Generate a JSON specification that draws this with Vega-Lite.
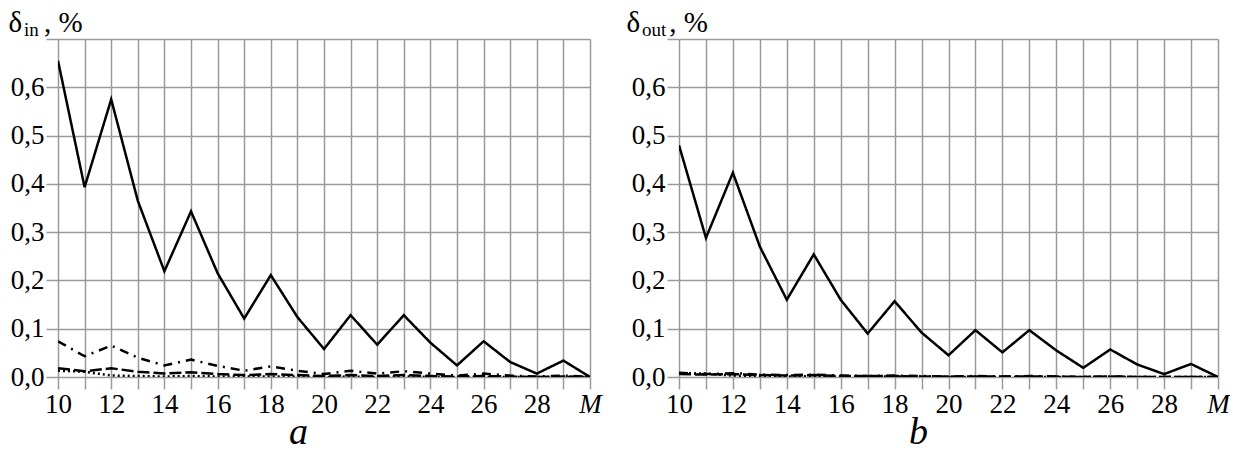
{
  "$schema": "https://vega.github.io/schema/vega-lite/v6.json",
  "padding": {"left": 8, "top": 8, "right": 0, "bottom": 0},
  "background": "white",
  "config": {
    "font": "Liberation Serif, serif",
    "view": {"stroke": null},
    "axis": {
      "domain": false,
      "gridColor": "#9a9a9a",
      "gridWidth": 1.5,
      "gridOpacity": 1,
      "tickColor": "#9a9a9a",
      "tickWidth": 1.5,
      "tickSize": 12,
      "labelFont": "Liberation Serif, serif",
      "labelFontSize": 27,
      "labelColor": "black",
      "titleColor": "black",
      "titleFontWeight": "normal"
    }
  },
  "datasets": {
    "left": [
      {"M":10,"s":"S","v":0.655},{"M":11,"s":"S","v":0.393},{"M":12,"s":"S","v":0.575},{"M":13,"s":"S","v":0.365},{"M":14,"s":"S","v":0.219},{"M":15,"s":"S","v":0.343},{"M":16,"s":"S","v":0.215},{"M":17,"s":"S","v":0.121},{"M":18,"s":"S","v":0.211},{"M":19,"s":"S","v":0.124},{"M":20,"s":"S","v":0.058},{"M":21,"s":"S","v":0.128},{"M":22,"s":"S","v":0.067},{"M":23,"s":"S","v":0.128},{"M":24,"s":"S","v":0.071},{"M":25,"s":"S","v":0.024},{"M":26,"s":"S","v":0.074},{"M":27,"s":"S","v":0.031},{"M":28,"s":"S","v":0.007},{"M":29,"s":"S","v":0.034},{"M":30,"s":"S","v":0.0},
      {"M":10,"s":"D","v":0.074},{"M":11,"s":"D","v":0.043},{"M":12,"s":"D","v":0.065},{"M":13,"s":"D","v":0.040},{"M":14,"s":"D","v":0.024},{"M":15,"s":"D","v":0.036},{"M":16,"s":"D","v":0.023},{"M":17,"s":"D","v":0.013},{"M":18,"s":"D","v":0.022},{"M":19,"s":"D","v":0.013},{"M":20,"s":"D","v":0.006},{"M":21,"s":"D","v":0.013},{"M":22,"s":"D","v":0.007},{"M":23,"s":"D","v":0.012},{"M":24,"s":"D","v":0.007},{"M":25,"s":"D","v":0.003},{"M":26,"s":"D","v":0.007},{"M":27,"s":"D","v":0.003},{"M":28,"s":"D","v":0.001},{"M":29,"s":"D","v":0.003},{"M":30,"s":"D","v":0.0},
      {"M":10,"s":"L","v":0.018},{"M":11,"s":"L","v":0.012},{"M":12,"s":"L","v":0.018},{"M":13,"s":"L","v":0.011},{"M":14,"s":"L","v":0.007},{"M":15,"s":"L","v":0.010},{"M":16,"s":"L","v":0.006},{"M":17,"s":"L","v":0.004},{"M":18,"s":"L","v":0.006},{"M":19,"s":"L","v":0.004},{"M":20,"s":"L","v":0.002},{"M":21,"s":"L","v":0.004},{"M":22,"s":"L","v":0.002},{"M":23,"s":"L","v":0.004},{"M":24,"s":"L","v":0.002},{"M":25,"s":"L","v":0.001},{"M":26,"s":"L","v":0.002},{"M":27,"s":"L","v":0.001},{"M":28,"s":"L","v":0.0},{"M":29,"s":"L","v":0.001},{"M":30,"s":"L","v":0.0},
      {"M":10,"s":"P","v":0.013},{"M":11,"s":"P","v":0.011},{"M":12,"s":"P","v":0.003},{"M":13,"s":"P","v":0.002},{"M":14,"s":"P","v":0.001},{"M":15,"s":"P","v":0.002},{"M":16,"s":"P","v":0.001},{"M":17,"s":"P","v":0.001},{"M":18,"s":"P","v":0.001},{"M":19,"s":"P","v":0.001},{"M":20,"s":"P","v":0.0},{"M":21,"s":"P","v":0.001},{"M":22,"s":"P","v":0.0},{"M":23,"s":"P","v":0.001},{"M":24,"s":"P","v":0.0},{"M":25,"s":"P","v":0.0},{"M":26,"s":"P","v":0.0},{"M":27,"s":"P","v":0.0},{"M":28,"s":"P","v":0.0},{"M":29,"s":"P","v":0.0},{"M":30,"s":"P","v":0.0}
    ],
    "right": [
      {"M":10,"s":"S","v":0.480},{"M":11,"s":"S","v":0.288},{"M":12,"s":"S","v":0.423},{"M":13,"s":"S","v":0.270},{"M":14,"s":"S","v":0.160},{"M":15,"s":"S","v":0.254},{"M":16,"s":"S","v":0.160},{"M":17,"s":"S","v":0.090},{"M":18,"s":"S","v":0.157},{"M":19,"s":"S","v":0.092},{"M":20,"s":"S","v":0.045},{"M":21,"s":"S","v":0.097},{"M":22,"s":"S","v":0.051},{"M":23,"s":"S","v":0.097},{"M":24,"s":"S","v":0.055},{"M":25,"s":"S","v":0.019},{"M":26,"s":"S","v":0.057},{"M":27,"s":"S","v":0.026},{"M":28,"s":"S","v":0.006},{"M":29,"s":"S","v":0.027},{"M":30,"s":"S","v":0.0},
      {"M":10,"s":"D","v":0.009},{"M":11,"s":"D","v":0.006},{"M":12,"s":"D","v":0.008},{"M":13,"s":"D","v":0.005},{"M":14,"s":"D","v":0.004},{"M":15,"s":"D","v":0.005},{"M":16,"s":"D","v":0.003},{"M":17,"s":"D","v":0.002},{"M":18,"s":"D","v":0.003},{"M":19,"s":"D","v":0.002},{"M":20,"s":"D","v":0.001},{"M":21,"s":"D","v":0.002},{"M":22,"s":"D","v":0.001},{"M":23,"s":"D","v":0.002},{"M":24,"s":"D","v":0.001},{"M":25,"s":"D","v":0.0},{"M":26,"s":"D","v":0.001},{"M":27,"s":"D","v":0.0},{"M":28,"s":"D","v":0.0},{"M":29,"s":"D","v":0.0},{"M":30,"s":"D","v":0.0},
      {"M":10,"s":"L","v":0.006},{"M":11,"s":"L","v":0.005},{"M":12,"s":"L","v":0.006},{"M":13,"s":"L","v":0.004},{"M":14,"s":"L","v":0.003},{"M":15,"s":"L","v":0.004},{"M":16,"s":"L","v":0.002},{"M":17,"s":"L","v":0.002},{"M":18,"s":"L","v":0.002},{"M":19,"s":"L","v":0.001},{"M":20,"s":"L","v":0.001},{"M":21,"s":"L","v":0.001},{"M":22,"s":"L","v":0.001},{"M":23,"s":"L","v":0.001},{"M":24,"s":"L","v":0.001},{"M":25,"s":"L","v":0.0},{"M":26,"s":"L","v":0.001},{"M":27,"s":"L","v":0.0},{"M":28,"s":"L","v":0.0},{"M":29,"s":"L","v":0.0},{"M":30,"s":"L","v":0.0},
      {"M":10,"s":"P","v":0.008},{"M":11,"s":"P","v":0.007},{"M":12,"s":"P","v":0.003},{"M":13,"s":"P","v":0.002},{"M":14,"s":"P","v":0.001},{"M":15,"s":"P","v":0.002},{"M":16,"s":"P","v":0.001},{"M":17,"s":"P","v":0.001},{"M":18,"s":"P","v":0.001},{"M":19,"s":"P","v":0.001},{"M":20,"s":"P","v":0.0},{"M":21,"s":"P","v":0.0},{"M":22,"s":"P","v":0.0},{"M":23,"s":"P","v":0.0},{"M":24,"s":"P","v":0.0},{"M":25,"s":"P","v":0.0},{"M":26,"s":"P","v":0.0},{"M":27,"s":"P","v":0.0},{"M":28,"s":"P","v":0.0},{"M":29,"s":"P","v":0.0},{"M":30,"s":"P","v":0.0}
    ]
  },
  "hconcat": [
    {
      "width": 532,
      "height": 338,
      "data": {"name": "left"},
      "title": {"text": "in", "anchor": "start", "frame": "group", "orient": "top", "font": "Liberation Serif, serif", "fontSize": 19, "fontWeight": "normal", "color": "black", "baseline": "alphabetic", "offset": -47, "dx": -34},
      "mark": {"type": "line", "color": "black", "strokeWidth": 2.5, "clip": true},
      "encoding": {
        "x": {"field": "M", "type": "quantitative",
          "scale": {"domain": [10, 30], "nice": false, "zero": false},
          "axis": {"values": [10,11,12,13,14,15,16,17,18,19,20,21,22,23,24,25,26,27,28,29,30],
            "labelFont": "Liberation Serif, serif",
            "labelExpr": "datum.value == 30 ? 'M' : (datum.value % 2 == 0 ? datum.label : '')",
            "labelFontStyle": {"condition": {"test": "datum.value == 30", "value": "italic"}, "value": "normal"},
            "labelFlush": false, "labelOverlap": false, "labelPadding": 2,
            "title": "a", "titleFont": "Liberation Serif, serif", "titleFontSize": 38, "titleFontStyle": "italic", "titleBaseline": "alphabetic", "titleX": 240, "titleY": 66}},
        "y": {"field": "v", "type": "quantitative",
          "scale": {"domain": [0, 0.7], "nice": false},
          "axis": {"values": [0, 0.1, 0.2, 0.3, 0.4, 0.5, 0.6, 0.7],
            "labelFont": "Liberation Serif, serif",
            "labelExpr": "datum.value > 0.65 ? '' : replace(format(datum.value, '.1f'), '.', ',')",
            "labelPadding": 2,
            "title": "δ\u00a0\u00a0\u00a0, %", "titleFont": "Liberation Serif, serif", "titleAngle": 0, "titleFontSize": 29, "titleAlign": "left", "titleBaseline": "alphabetic",
            "titleX": -50, "titleY": -8}},
        "detail": {"field": "s"},
        "strokeDash": {"field": "s", "type": "nominal", "legend": null,
          "scale": {"domain": ["S", "D", "L", "P"], "range": [[1, 0], [9, 6, 2, 6], [12, 4], [2, 3]]}}
      }
    },
    {
      "width": 539,
      "height": 338,
      "data": {"name": "right"},
      "title": {"text": "out", "anchor": "start", "frame": "group", "orient": "top", "font": "Liberation Serif, serif", "fontSize": 19, "fontWeight": "normal", "color": "black", "baseline": "alphabetic", "offset": -47, "dx": -37},
      "mark": {"type": "line", "color": "black", "strokeWidth": 2.5, "clip": true},
      "encoding": {
        "x": {"field": "M", "type": "quantitative",
          "scale": {"domain": [10, 30], "nice": false, "zero": false},
          "axis": {"values": [10,11,12,13,14,15,16,17,18,19,20,21,22,23,24,25,26,27,28,29,30],
            "labelFont": "Liberation Serif, serif",
            "labelExpr": "datum.value == 30 ? 'M' : (datum.value % 2 == 0 ? datum.label : '')",
            "labelFontStyle": {"condition": {"test": "datum.value == 30", "value": "italic"}, "value": "normal"},
            "labelFlush": false, "labelOverlap": false, "labelPadding": 2,
            "title": "b", "titleFont": "Liberation Serif, serif", "titleFontSize": 38, "titleFontStyle": "italic", "titleBaseline": "alphabetic", "titleX": 239, "titleY": 66}},
        "y": {"field": "v", "type": "quantitative",
          "scale": {"domain": [0, 0.7], "nice": false},
          "axis": {"values": [0, 0.1, 0.2, 0.3, 0.4, 0.5, 0.6, 0.7],
            "labelFont": "Liberation Serif, serif",
            "labelExpr": "datum.value > 0.65 ? '' : replace(format(datum.value, '.1f'), '.', ',')",
            "labelPadding": 2,
            "title": "δ\u00a0\u00a0\u00a0\u00a0, %", "titleFont": "Liberation Serif, serif", "titleAngle": 0, "titleFontSize": 29, "titleAlign": "left", "titleBaseline": "alphabetic",
            "titleX": -53, "titleY": -8}},
        "detail": {"field": "s"},
        "strokeDash": {"field": "s", "type": "nominal", "legend": null,
          "scale": {"domain": ["S", "D", "L", "P"], "range": [[1, 0], [9, 6, 2, 6], [12, 4], [2, 3]]}}
      }
    }
  ],
  "spacing": 24
}
